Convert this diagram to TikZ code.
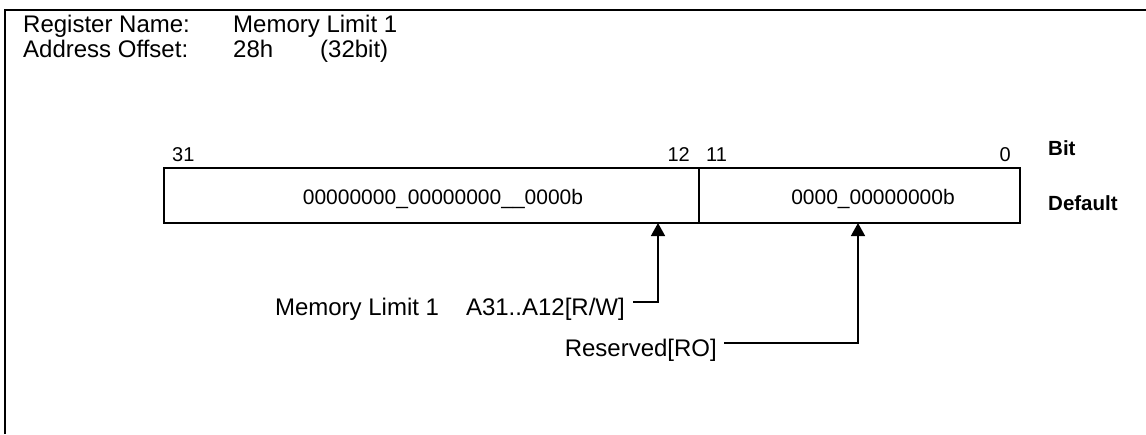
\documentclass[tikz,border=0pt]{standalone}
\usepackage{fontspec}
\setmainfont{Liberation Sans}
\usetikzlibrary{arrows.meta}
\begin{document}
\begin{tikzpicture}[x=1pt,y=-1pt,
  hdr/.style={inner sep=0pt, anchor=base west, font=\fontsize{24}{28}\selectfont},
  lbl/.style={inner sep=0pt, anchor=base east, font=\fontsize{24}{28}\selectfont},
  bitnum/.style={inner sep=0pt, font=\fontsize{20}{24}\selectfont},
  side/.style={inner sep=0pt, anchor=base west, font=\fontsize{20.5}{24}\selectfont\bfseries},
  field/.style={draw, line width=1.6pt, inner sep=0pt, minimum height=55pt},
  ftxt/.style={inner sep=0pt, anchor=base, font=\fontsize{21}{25}\selectfont},
  ptr/.style={line width=1.5pt, -{Triangle[length=13pt,width=14pt]}},
  frame/.style={line width=1.6pt}]
\useasboundingbox (0,0) rectangle (1146,434);
% frame (top and left only)
\coordinate (fr0) at (5,434);
\coordinate (fr1) at (5,10);
\coordinate (fr2) at (1146,10);
\draw[frame] (fr0) -- (fr1) -- (fr2);
% header
\node[hdr] (rn) at (23,32) {Register Name:};
\node[hdr] (rv) at (233,32) {Memory Limit 1};
\node[hdr] (ao) at (23,57) {Address Offset:};
\node[hdr] (av) at (233,57) {28h};
\node[hdr] (aw) at (320,57) {(32bit)};
% fields
\node[field, minimum width=535pt] (fL) at (431.5,195.5) {};
\node[field, minimum width=321pt] (fR) at (859.5,195.5) {};
\node[ftxt] (tL) at (443,204) {00000000\_00000000\_\_0000b};
\node[ftxt] (tR) at (873,204) {0000\_00000000b};
% bit numbers
\node[bitnum, anchor=base west] (b31) at (172,161) {31};
\node[bitnum, anchor=base east] (b12) at (690,161) {12};
\node[bitnum, anchor=base west] (b11) at (706,161) {11};
\node[bitnum, anchor=base east] (b0) at (1011,161) {0};
\node[side] (bit) at (1048,155) {Bit};
\node[side] (def) at (1048,210) {Default};
% field labels
\node[lbl] (l1) at (625,315) {Memory Limit 1\hspace{27pt}A31..A12[R/W]};
\node[lbl] (l2) at (717,356) {Reserved[RO]};
\coordinate (t1) at (658,223);
\coordinate (t2) at (858,223);
\coordinate (k1) at (658,302);
\coordinate (k2) at (858,343);
\coordinate (s1) at (633,302);
\coordinate (s2) at (724,343);
\draw[ptr] (s1) -- (k1) -- (t1);
\draw[ptr] (s2) -- (k2) -- (t2);
\end{tikzpicture}
\end{document}
